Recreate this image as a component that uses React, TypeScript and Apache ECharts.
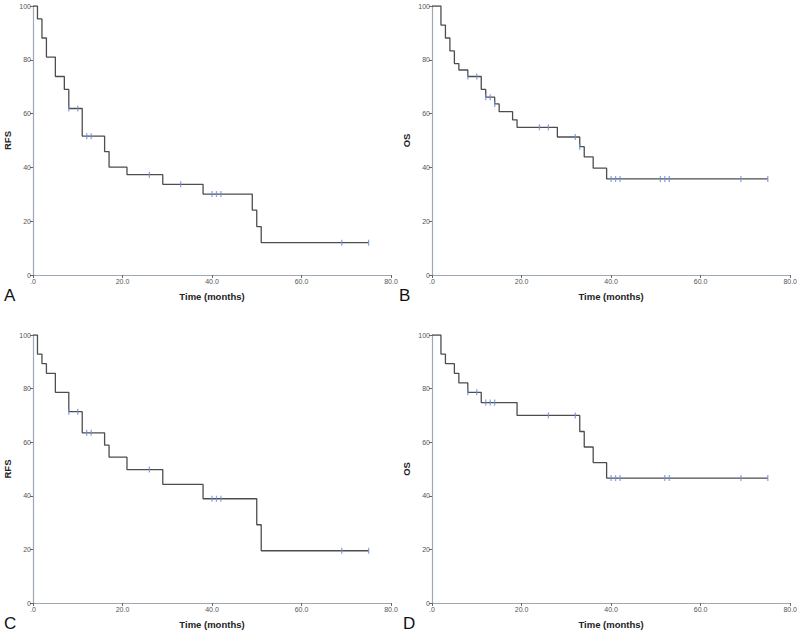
import React, { useEffect, useRef } from "react";
import * as echarts from "echarts";

// Panel A – RFS
const aTimes = [0, 1, 2, 3, 5, 7, 8, 11, 16, 17, 21, 29, 38, 49, 50, 51, 75];
const aSurv = [100, 95.2, 88.1, 81.0, 73.8, 69.0, 61.9, 51.6, 45.9, 40.1, 37.3, 33.7, 30.1, 24.1, 18.0, 12.0, 12.0];
const aCensor = [8, 10, 12, 13, 26, 33, 40, 41, 42, 69, 75];

// Panel B – OS
const bTimes = [0, 2, 3, 4, 5, 6, 8, 11, 12, 14, 15, 18, 19, 28, 33, 34, 36, 39, 75];
const bSurv = [100, 92.9, 88.1, 83.3, 78.6, 76.2, 73.8, 69.0, 66.1, 63.6, 60.7, 57.7, 54.9, 51.3, 47.7, 43.9, 39.7, 35.7, 35.7];
const bCensor = [8, 10, 12, 13, 14, 24, 26, 32, 33, 40, 41, 42, 51, 52, 53, 69, 75];

// Panel C – RFS
const cTimes = [0, 1, 2, 3, 5, 8, 11, 16, 17, 21, 29, 38, 50, 51, 75];
const cSurv = [100, 92.9, 89.3, 85.7, 78.6, 71.4, 63.5, 58.9, 54.4, 49.8, 44.3, 38.9, 29.2, 19.5, 19.5];
const cCensor = [8, 10, 12, 13, 26, 40, 41, 42, 69, 75];

// Panel D – OS
const dTimes = [0, 2, 3, 5, 6, 8, 11, 19, 33, 34, 36, 39, 75];
const dSurv = [100, 92.9, 89.3, 85.7, 82.1, 78.6, 74.8, 70.0, 64.0, 58.2, 52.4, 46.6, 46.6];
const dCensor = [8, 10, 12, 13, 14, 26, 32, 40, 41, 42, 52, 53, 69, 75];

const xTicks = [0, 20, 40, 60, 80];
const yTicks = [0, 20, 40, 60, 80, 100];
const panelLetters = ["A", "B", "C", "D"];
const yTitles = ["RFS", "OS", "RFS", "OS"];
const xTitle = "Time (months)";

const panels = [
  { times: aTimes, surv: aSurv, censor: aCensor },
  { times: bTimes, surv: bSurv, censor: bCensor },
  { times: cTimes, surv: cSurv, censor: cCensor },
  { times: dTimes, surv: dSurv, censor: dCensor },
];

const grids = [
  { left: 33, top: 6, width: 358, height: 269 },
  { left: 432, top: 6, width: 359, height: 269 },
  { left: 33, top: 335, width: 358, height: 268 },
  { left: 432, top: 335, width: 359, height: 268 },
];

const letterPos = [
  { x: 4, y: 287 },
  { x: 399, y: 287 },
  { x: 4, y: 615 },
  { x: 403, y: 615 },
];

function survAt(times: number[], surv: number[], t: number) {
  let v = surv[0];
  for (let i = 0; i < times.length; i++) {
    if (times[i] <= t) v = surv[i];
  }
  return v;
}

const axisColor = "#9ea8b2";
const labelColor = "#555";
const font = "Liberation Sans, Arial, sans-serif";

export default function App() {
  const ref = useRef<HTMLDivElement>(null);
  useEffect(() => {
    if (!ref.current) return;
    const chart = echarts.init(ref.current, undefined, { renderer: "svg" });
    const xAxis: any[] = [];
    const yAxis: any[] = [];
    const series: any[] = [];
    panels.forEach((p, i) => {
      xAxis.push({
        gridIndex: i,
        type: "value",
        min: 0,
        max: 80,
        interval: 20,
        name: xTitle,
        nameLocation: "middle",
        nameGap: 16,
        nameTextStyle: { fontFamily: font, fontWeight: "bold", fontSize: 9.5, color: "#222" },
        axisLine: { lineStyle: { color: axisColor, width: 1.2 } },
        axisTick: { show: true, length: 3, lineStyle: { color: "#666" } },
        axisLabel: {
          fontFamily: font,
          fontSize: 7,
          color: labelColor,
          margin: 3,
          formatter: (v: number) => (v === 0 ? ".0" : v.toFixed(1)),
        },
        splitLine: { show: false },
      });
      yAxis.push({
        gridIndex: i,
        type: "value",
        min: 0,
        max: 100,
        interval: 20,
        name: yTitles[i],
        nameLocation: "middle",
        nameGap: 21,
        nameTextStyle: { fontFamily: font, fontWeight: "bold", fontSize: 9.5, color: "#222" },
        axisLine: { show: true, lineStyle: { color: axisColor, width: 1.2 } },
        axisTick: { show: true, length: 3, lineStyle: { color: "#666" } },
        axisLabel: { fontFamily: font, fontSize: 7, color: labelColor, margin: 2 },
        splitLine: { show: false },
      });
      series.push({
        type: "line",
        xAxisIndex: i,
        yAxisIndex: i,
        step: "end",
        showSymbol: false,
        symbol: "none",
        lineStyle: { color: "#4d4d4d", width: 1.3 },
        data: p.times.map((t, k) => [t, p.surv[k]]),
        z: 2,
      });
      series.push({
        type: "scatter",
        xAxisIndex: i,
        yAxisIndex: i,
        symbol: "rect",
        symbolSize: [1.3, 6],
        itemStyle: { color: "#6f8fd8" },
        data: p.censor.map((t) => [t, survAt(p.times, p.surv, t)]),
        z: 3,
      });
    });
    chart.setOption({
      animation: false,
      backgroundColor: "#fff",
      grid: grids,
      xAxis,
      yAxis,
      series,
      graphic: panelLetters.map((l, i) => ({
        type: "text",
        left: letterPos[i].x,
        top: letterPos[i].y,
        style: { text: l, fontFamily: font, fontSize: 17, fill: "#111" },
      })),
    });
    return () => chart.dispose();
  }, []);
  return (
    <div
      ref={ref}
      style={{ position: "absolute", left: 0, top: 0, width: 800, height: 633, background: "#fff" }}
    />
  );
}
